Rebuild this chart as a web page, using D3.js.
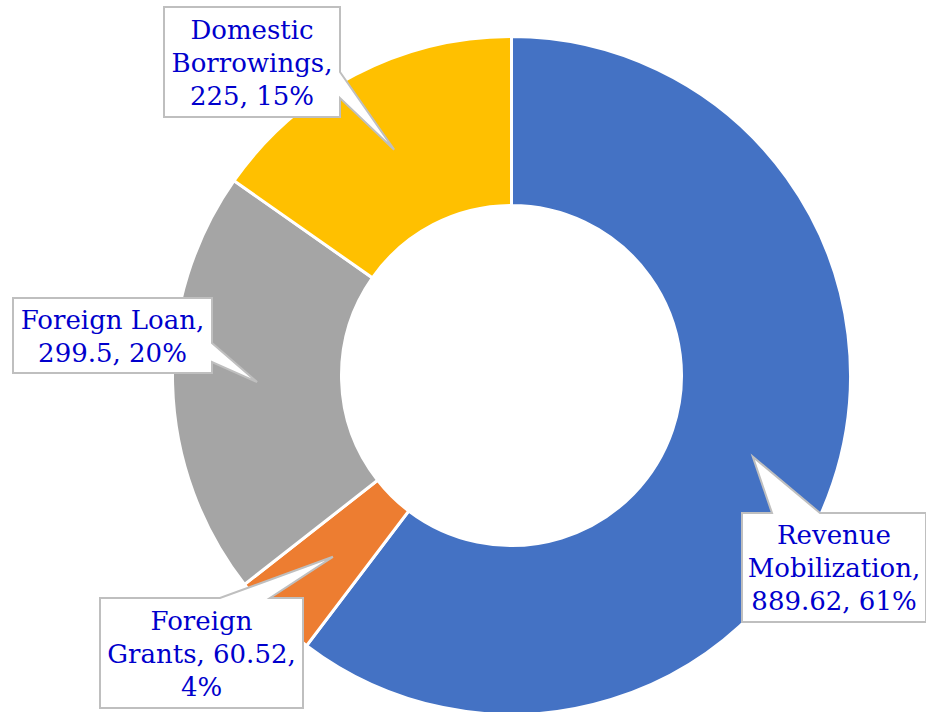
<!DOCTYPE html>
<html>
<head>
<meta charset="utf-8">
<script src="https://d3js.org/d3.v7.min.js"></script>
<style>
  body { margin: 0; background: #fff; }
  svg { display: block; }
  .label text { fill: #0000CC; font-family: "DejaVu Serif", Georgia, serif; font-size: 26px; }
  .callout { fill: #fff; stroke: #BFBFBF; stroke-width: 2; }
</style>
</head>
<body>
<svg id="chart" width="926" height="712"></svg>
<script>
// data (clockwise from 12 o'clock)
var categories = ["Revenue Mobilization", "Foreign Grants", "Foreign Loan", "Domestic Borrowings"];
var values = [889.62, 60.52, 299.5, 225];
var pctLabels = ["61%", "4%", "20%", "15%"];
var colors = ["#4472C4", "#ED7D31", "#A5A5A5", "#FFC000"];

// callout box layout: box, side the pointer leaves from, and the two base points on that side
var boxes = [
  { x: 742, y: 513, w: 184, h: 109, side: "top", b1: 772, b2: 820 },
  { x: 100, y: 598, w: 203, h: 110, side: "top", b1: 220, b2: 270 },
  { x: 13, y: 298, w: 199, h: 75, side: "right", b1: 343, b2: 362 },
  { x: 164, y: 7, w: 176, h: 110, side: "right", b1: 72, b2: 98 }
];

var cx = 511.5, cy = 375.5;
var outerR = 339, innerR = 170;

var svg = d3.select("#chart");
var g = svg.append("g").attr("transform", `translate(${cx},${cy})`);

var pie = d3.pie().sort(null).value(d => d);
var arcs = pie(values);

var arc = d3.arc().innerRadius(innerR).outerRadius(outerR);
var mid = d3.arc().innerRadius((innerR + outerR) / 2).outerRadius((innerR + outerR) / 2);

g.selectAll("path.slice")
  .data(arcs)
  .enter().append("path")
  .attr("class", "slice")
  .attr("d", arc)
  .attr("fill", (d, i) => colors[i])
  .attr("stroke", "#fff")
  .attr("stroke-width", 3);

// callouts with pointers to slice centroids
function calloutPath(b, tip) {
  var x0 = b.x, y0 = b.y, x1 = b.x + b.w, y1 = b.y + b.h;
  var p = d3.path();
  if (b.side === "top") {
    p.moveTo(x0, y0);
    p.lineTo(b.b1, y0);
    p.lineTo(tip[0], tip[1]);
    p.lineTo(b.b2, y0);
    p.lineTo(x1, y0);
    p.lineTo(x1, y1);
    p.lineTo(x0, y1);
  } else {
    p.moveTo(x0, y0);
    p.lineTo(x1, y0);
    p.lineTo(x1, b.b1);
    p.lineTo(tip[0], tip[1]);
    p.lineTo(x1, b.b2);
    p.lineTo(x1, y1);
    p.lineTo(x0, y1);
  }
  p.closePath();
  return p.toString();
}

var labels = svg.selectAll("g.label")
  .data(arcs)
  .enter().append("g")
  .attr("class", "label");

labels.append("path")
  .attr("class", "callout")
  .attr("d", (d, i) => {
    var c = mid.centroid(d);
    return calloutPath(boxes[i], [c[0] + cx, c[1] + cy]);
  });

var lineH = 33;
labels.each(function(d, i) {
  var b = boxes[i];
  var sel = d3.select(this);
  var words = `${categories[i]}, ${values[i]}, ${pctLabels[i]}`.split(" ");
  var maxW = b.w - 12;
  // wrap words to the box width
  var probe = sel.append("text");
  var lines = [], cur = "";
  words.forEach(w => {
    var test = cur ? cur + " " + w : w;
    probe.text(test);
    if (cur && probe.node().getComputedTextLength() > maxW) {
      lines.push(cur);
      cur = w;
    } else {
      cur = test;
    }
  });
  lines.push(cur);
  probe.remove();

  var midY = b.y + b.h / 2;
  lines.forEach((ln, k) => {
    sel.append("text")
      .attr("x", b.x + b.w / 2)
      .attr("y", midY + (k - (lines.length - 1) / 2) * lineH + 9.5)
      .attr("text-anchor", "middle")
      .text(ln);
  });
});
</script>
</body>
</html>
